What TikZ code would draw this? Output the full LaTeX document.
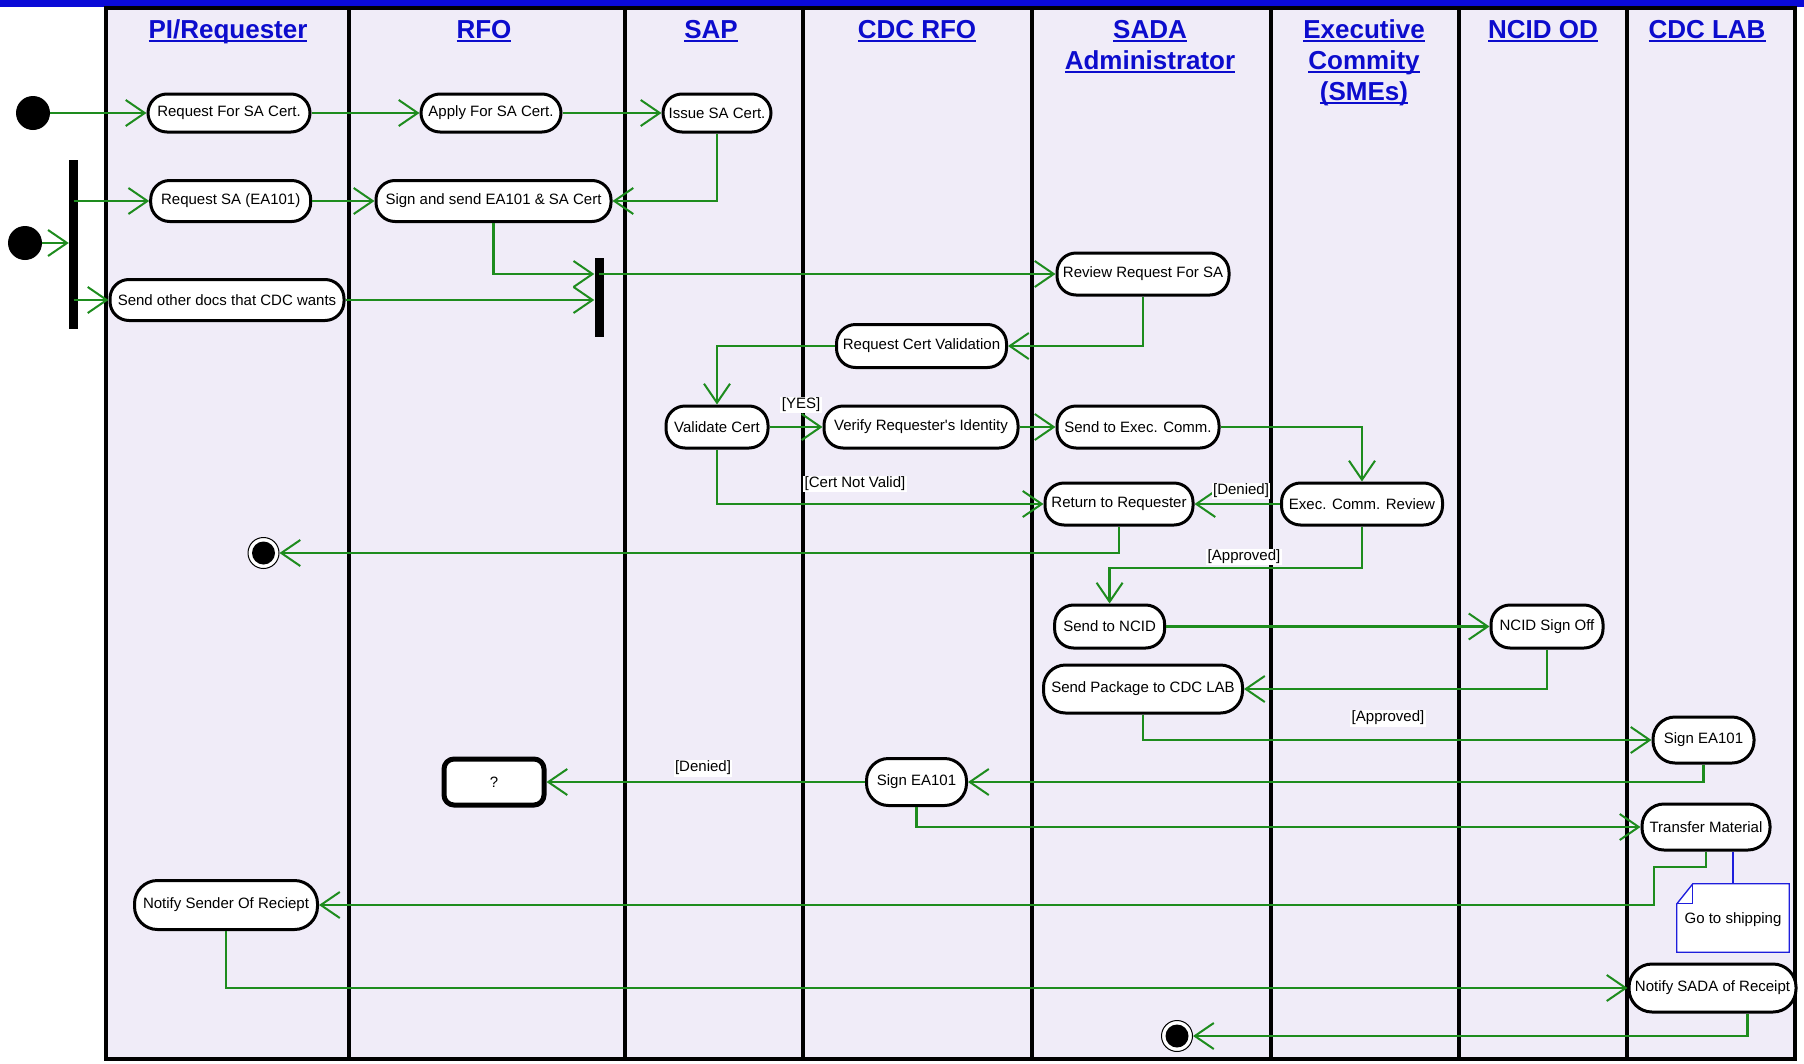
\documentclass[tikz,border=0pt]{standalone}
\usepackage{fontspec}
\setmainfont{Liberation Sans}[Ligatures=TeXOff]
\usetikzlibrary{arrows.meta,calc}
\definecolor{lane}{RGB}{240,236,248}
\definecolor{flowgreen}{RGB}{30,140,30}
\definecolor{hdrblue}{RGB}{12,12,205}
\definecolor{bandblue}{RGB}{10,10,215}
\definecolor{noteblue}{RGB}{30,30,220}
\newcommand\hul[1]{\setbox0\hbox{#1}\rlap{\rule[-4pt]{\wd0}{2pt}}\box0}
\begin{document}
\begin{tikzpicture}[x=1pt,y=-1pt,
  act/.style={draw=black, line width=3pt, fill=white, rounded corners=19pt,
    minimum height=41pt, inner sep=2pt, font=\fontsize{15}{18}\selectfont, align=center},
  flow/.style={draw=flowgreen, line width=2.4pt,
    -{Straight Barb[length=19pt,width=26pt,line width=2pt]}},
  hdr/.style={text=hdrblue, font=\fontsize{26}{31}\selectfont\bfseries, anchor=base, inner sep=0pt},
  guard/.style={fill=white, inner sep=1.5pt, font=\fontsize{15}{18}\selectfont},
  lanebar/.style={line width=3.5pt, draw=black},
  startdot/.style={circle, fill=black, minimum size=34pt, inner sep=0pt},
  enddot/.style={circle, draw=black, line width=1pt, fill=white, minimum size=31pt, inner sep=0pt},
  syncbar/.style={rectangle, fill=black, inner sep=0pt, minimum width=9pt},
]
\useasboundingbox (0,0) rectangle (1804,1063);
% top band
\fill[bandblue] (0,0) rectangle (1804,7);
% lanes
\fill[lane] (106,8) rectangle (1795,1059);
\foreach \xx in {106,349,625,803,1032,1271,1459,1627,1795}
  \draw[lanebar] (\xx,8) -- (\xx,1059);
\draw[lanebar] (104.25,8) -- (1796.75,8);
\draw[lanebar] (104.25,1059) -- (1796.75,1059);

% headers
\node[hdr] (hpi) at (228,38) {\hul{PI/Requester}};
\node[hdr] (hrfo) at (484,38) {\hul{RFO}};
\node[hdr] (hsap) at (711,38) {\hul{SAP}};
\node[hdr] (hcdcrfo) at (917,38) {\hul{CDC RFO}};
\node[hdr] (hsada1) at (1150,38) {\hul{SADA}};
\node[hdr] (hsada2) at (1150,69) {\hul{Administrator}};
\node[hdr] (hexec1) at (1364,38) {\hul{Executive}};
\node[hdr] (hexec2) at (1364,69) {\hul{Commity}};
\node[hdr] (hexec3) at (1364,100) {\hul{(SMEs)}};
\node[hdr] (hncid) at (1543,38) {\hul{NCID OD}};
\node[hdr] (hlab) at (1707,38) {\hul{CDC LAB}};

% start / sync
\node[startdot] (start1) at (33,113) {};
\node[startdot] (start2) at (25,243) {};
\node[syncbar, minimum height=169pt] (fork) at (73.5,244.5) {};
\node[syncbar, minimum height=79pt] (join) at (599,297.5) {};

% activities
\node[act, minimum width=162pt, minimum height=38pt] (reqcert) at (229,113) {Request For SA Cert.};
\node[act, minimum width=140pt, minimum height=38pt] (apply) at (491,113) {Apply For SA Cert.};
\node[act, minimum width=108pt, minimum height=38pt] (issue) at (717,113) {Issue SA Cert.};
\node[act, minimum width=160pt] (reqsa) at (230.7,201) {Request SA (EA101)};
\node[act, minimum width=235pt] (sign) at (493.5,201) {Sign and send EA101 \& SA Cert};
\node[act, minimum width=234pt] (docs) at (227,300) {Send other docs that CDC wants};
\node[act, minimum width=172pt, minimum height=42pt] (rev) at (1143,274) {Review Request For SA};
\node[act, minimum width=170pt, minimum height=43pt] (rcv) at (921.5,346) {Request Cert Validation};
\node[act, minimum width=102pt, minimum height=42pt] (val) at (717,427) {Validate Cert};
\node[act, minimum width=194pt, minimum height=42pt] (ver) at (921,427) {Verify Requester's Identity};
\node[act, minimum width=162pt, minimum height=42pt] (sendexec) at (1138,427) {Send to Exec. Comm.};
\node[act, minimum width=148pt, minimum height=42pt] (ret) at (1119,504) {Return to Requester};
\node[act, minimum width=161pt, minimum height=42pt] (review) at (1362,504) {Exec. Comm. Review};
\node[act, minimum width=110pt, minimum height=43pt] (sendncid) at (1109.6,626.5) {Send to NCID};
\node[act, minimum width=112pt, minimum height=43pt] (ncso) at (1547,626.5) {NCID Sign Off};
\node[act, minimum width=199pt, minimum height=48pt, rounded corners=22pt] (pkg) at (1143,689) {Send Package to CDC LAB};
\node[act, minimum width=101pt, minimum height=46pt, rounded corners=22pt] (signlab) at (1703.5,740) {Sign EA101};
\node[act, minimum width=100pt, minimum height=46pt, rounded corners=10pt, line width=5pt] (q) at (494,782) {?};
\node[act, minimum width=100pt, minimum height=47pt, rounded corners=22pt] (signrfo) at (916.5,782) {Sign EA101};
\node[act, minimum width=128pt, minimum height=46pt, rounded corners=22pt] (transfer) at (1706,827) {Transfer Material};
\node[act, minimum width=183pt, minimum height=49pt, rounded corners=23pt] (notsend) at (226,905) {Notify Sender Of Reciept};
\node[act, minimum width=167pt, minimum height=48pt, rounded corners=23pt] (notsada) at (1712.5,988) {Notify SADA of Receipt};

% finals
\node[enddot] (fin1) at (263.5,553) {};
\fill[black] (fin1.center) circle (11.5);
\node[enddot] (fin2) at (1177,1036) {};
\fill[black] (fin2.center) circle (11.5);

% note
\node[minimum width=112pt, minimum height=68pt, inner sep=0pt] (note) at (1733,918) {};
\draw[noteblue, line width=1.3pt, fill=white]
  ([xshift=16pt]note.north west) -- (note.north east) -- (note.south east)
  -- (note.south west) -- ([yshift=-20pt]note.north west) -- cycle;
\draw[noteblue, line width=1.3pt] ([yshift=-20pt]note.north west) -- ([xshift=16pt,yshift=-20pt]note.north west)
  -- ([xshift=16pt]note.north west);
\node[font=\fontsize{15}{18}\selectfont, inner sep=0pt] (notetext) at (1733,920) {Go to shipping};
\draw[noteblue, line width=1.3pt] ([xshift=27pt]transfer.south) -- ([xshift=27pt]transfer.south |- note.north);

% helper coordinates
\coordinate (apb) at (1364,568);
\coordinate (tbend) at (1654,867);

% connectors
\draw[flow] (start1.east) -- (reqcert.west);
\draw[flow] (reqcert.east) -- (apply.west);
\draw[flow] (apply.east) -- (issue.west);
\draw[flow] (issue.south) |- (sign.east);
\draw[flow] (start2.east) -- (start2.east -| fork.west);
\draw[flow] (fork.center |- reqsa.west) -- (reqsa.west);
\draw[flow] (fork.center |- docs.west) -- (docs.west);
\draw[flow] (reqsa.east) -- (sign.west);
\draw[flow] (sign.south) |- (join.west |- rev.west);
\draw[flow] (docs.east) -- (docs.east -| join.west);
\draw[flow] (join.center |- rev.west) -- (rev.west);
\draw[flow] (rev.south) |- (rcv.east);
\draw[flow] (rcv.west) -| (val.north);
\draw[flow] (val.east) -- (ver.west);
\draw[flow] (ver.east) -- (sendexec.west);
\draw[flow] (sendexec.east) -| (review.north);
\draw[flow] (val.south) |- (ret.west);
\draw[flow] (review.west) -- (ret.east);
\draw[flow] (ret.south) |- (fin1.east);
\draw[flow] (review.south) -- (review.south |- apb) -| (sendncid.north);
\draw[flow] (sendncid.east) -- (ncso.west);
\draw[flow] (ncso.south) |- (pkg.east);
\draw[flow] (pkg.south) |- (signlab.west);
\draw[flow] (signlab.south) |- (signrfo.east);
\draw[flow] (signrfo.west) -- (q.east);
\draw[flow] (signrfo.south) |- (transfer.west);
\draw[flow] (transfer.south) |- (tbend) |- (notsend.east);
\draw[flow] (notsend.south) |- (notsada.west);
\draw[flow] ([xshift=35pt]notsada.south) |- (fin2.east);

% guards
\node[guard] (gyes) at (801,405) {[YES]};
\node[guard] (gcnv) at (855,484) {[Cert Not Valid]};
\node[guard] (gden1) at (1241,491) {[Denied]};
\node[guard] (gapp1) at (1244,557) {[Approved]};
\node[guard] (gapp2) at (1388,718) {[Approved]};
\node[guard] (gden2) at (703,768) {[Denied]};
\end{tikzpicture}
\end{document}
